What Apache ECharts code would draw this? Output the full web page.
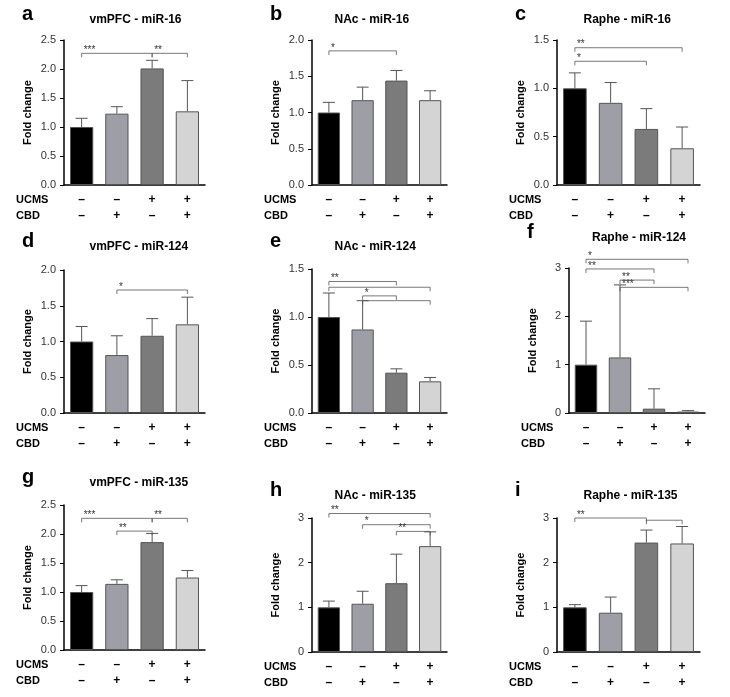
<!DOCTYPE html><html><head><meta charset="utf-8"><script src="https://cdn.jsdelivr.net/npm/echarts@6/dist/echarts.min.js"></script></head><body style="margin:0"><div id="c" style="width:730px;height:697px"></div><script>
const titles=["vmPFC - miR-16","NAc - miR-16","Raphe - miR-16","vmPFC - miR-124","NAc - miR-124","Raphe - miR-124","vmPFC - miR-135","NAc - miR-135","Raphe - miR-135"];
const letters=["a","b","c","d","e","f","g","h","i"];
const categories=["–\n–","–\n+","+\n–","+\n+"];
const means=[[1.0,1.23,2.01,1.27],[1.0,1.17,1.44,1.17],[1.0,0.85,0.58,0.38],[1.0,0.81,1.08,1.24],[1.0,0.87,0.42,0.33],[1.0,1.15,0.09,0.03],[1.0,1.14,1.86,1.25],[1.0,1.08,1.54,2.37],[1.0,0.88,2.45,2.43]];
const errs=[[0.15,0.12,0.14,0.53],[0.14,0.18,0.14,0.13],[0.16,0.21,0.21,0.22],[0.21,0.27,0.24,0.38],[0.25,0.30,0.04,0.04],[0.9,1.5,0.41,0.02],[0.11,0.07,0.15,0.12],[0.14,0.28,0.65,0.32],[0.06,0.35,0.28,0.38]];
const brackets=[[[0,2,2.27,"***"],[2,3,2.27,"**"]],[[0,2,1.85,"*"]],[[0,2,1.28,"*"],[0,3,1.42,"**"]],[[1,3,1.72,"*"]],[[0,2,1.37,"**"],[0,3,1.31,""],[1,2,1.22,"*"],[1,3,1.17,""]],[[0,3,3.18,"*"],[0,2,2.98,"**"],[1,2,2.75,"**"],[1,3,2.6,"***"]],[[0,2,2.27,"***"],[1,2,2.05,"**"],[2,3,2.27,"**"]],[[0,3,3.1,"**"],[1,3,2.85,"*"],[2,3,2.7,"**"]],[[0,2,3.0,"**"],[2,3,2.95,""]]];
const yMax=[2.5,2.0,1.5,2.0,1.5,3,2.5,3,3];
const yInt=[0.5,0.5,0.5,0.5,0.5,1,0.5,1,1];
const yDec=[1,1,1,1,1,0,1,0,0];
const colors=['#000000','#9e9ea6','#7b7b7b','#d4d4d4'];
const geo=[[64,205,40,185],[312,447,40,185],[557,700,40,185],[64,205,270,413],[312,447,269,413],[569,705,268,413],[64,205,505,650],[312,447,518,652],[557,700,518,652]];
const titleTop=[14,14,14,241,241,232,477,490,490];
const grid=[],xAxis=[],yAxis=[],series=[],graphic=[];
geo.forEach((g,i)=>{
 grid.push({left:g[0],width:g[1]-g[0],top:g[2],height:g[3]-g[2]});
 xAxis.push({type:'category',gridIndex:i,data:categories,axisLine:{lineStyle:{color:'#000',width:1.5}},axisTick:{alignWithLabel:true,length:5,lineStyle:{color:'#000'}},axisLabel:{color:'#000',fontSize:12,fontWeight:'bold',lineHeight:16,margin:7}});
 yAxis.push({type:'value',gridIndex:i,min:0,max:yMax[i],interval:yInt[i],name:'Fold change',nameLocation:'middle',nameGap:31,nameTextStyle:{fontSize:11,fontWeight:'bold',fontFamily:'Liberation Sans'},splitLine:{show:false},axisLine:{show:true,lineStyle:{color:'#000',width:1.5}},axisTick:{show:true,length:4,lineStyle:{color:'#000'}},axisLabel:{color:'#333',fontSize:11,formatter:v=>v.toFixed(yDec[i])}});
 series.push({type:'bar',xAxisIndex:i,yAxisIndex:i,barWidth:'66%',data:means[i].map((v,k)=>({value:v,itemStyle:{color:colors[k],borderColor:'#555',borderWidth:1}}))});
 series.push({type:'custom',xAxisIndex:i,yAxisIndex:i,data:means[i].map((v,k)=>[k,v,errs[i][k]]),renderItem:(p,api)=>{const a=api.coord([api.value(0),api.value(1)]),b=api.coord([api.value(0),api.value(1)+api.value(2)]);return{type:'group',children:[{type:'line',shape:{x1:a[0],y1:a[1],x2:b[0],y2:b[1]},style:{stroke:'#555',lineWidth:1}},{type:'line',shape:{x1:b[0]-6,y1:b[1],x2:b[0]+6,y2:b[1]},style:{stroke:'#555',lineWidth:1}}]};},z:1});
 series.push({type:'custom',xAxisIndex:i,yAxisIndex:i,data:brackets[i].map(b=>[b[0],b[1],b[2],b[3]]),renderItem:(p,api)=>{const a=api.coord([api.value(0),api.value(2)]),b=api.coord([api.value(1),api.value(2)]);const s=brackets[i][p.dataIndex][3];return{type:'group',children:[{type:'polyline',shape:{points:[[a[0],a[1]+4],[a[0],a[1]],[b[0],b[1]],[b[0],b[1]+4]]},style:{stroke:'#555',fill:null,lineWidth:0.8}},{type:'text',style:{text:s,x:a[0]+2,y:a[1]+2,fontSize:10,fill:'#333',textVerticalAlign:'bottom'}}]};},z:3});
 graphic.push({type:'text',left:(g[0]+g[1])/2-45,top:titleTop[i],style:{text:titles[i],fontSize:12,fontWeight:'bold',fill:'#000',width:90,align:'center'}});
 graphic.push({type:'text',left:g[0]-42,top:titleTop[i]-10,style:{text:letters[i],fontSize:20,fontWeight:'bold',fill:'#000'}});
 graphic.push({type:'text',left:g[0]-48,top:g[3]+7,style:{text:'UCMS\nCBD',fontSize:11,fontWeight:'bold',fill:'#000',lineHeight:16}});
});
const ch=echarts.init(document.getElementById('c'));
ch.setOption({animation:false,backgroundColor:'#fff',textStyle:{fontFamily:'Liberation Sans'},grid,xAxis,yAxis,series,graphic});
</script></body></html>
